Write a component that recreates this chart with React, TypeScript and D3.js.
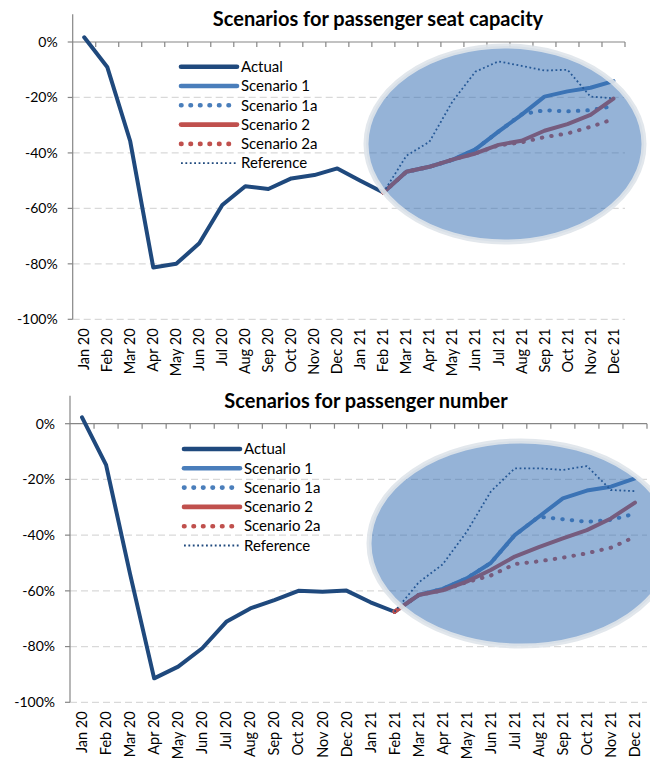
import React from 'react'
import * as d3 from 'd3'

const months = ['Jan 20', 'Feb 20', 'Mar 20', 'Apr 20', 'May 20', 'Jun 20', 'Jul 20', 'Aug 20', 'Sep 20', 'Oct 20', 'Nov 20', 'Dec 20',
    'Jan 21', 'Feb 21', 'Mar 21', 'Apr 21', 'May 21', 'Jun 21', 'Jul 21', 'Aug 21', 'Sep 21', 'Oct 21', 'Nov 21', 'Dec 21']
const yTicks = [0, -20, -40, -60, -80, -100]
const seriesNames = ['Actual', 'Scenario 1', 'Scenario 1a', 'Scenario 2', 'Scenario 2a', 'Reference']

const _ = null
// seat capacity, % change
const seatActual = [1.7, -9, -35.8, -81.3, -80, -72.6, -58.8, -52, -53, -49.2, -48, -45.6, -50, -54.3, _, _, _, _, _, _, _, _, _, _]
const seatS1 = [_, _, _, _, _, _, _, _, _, _, _, _, _, -54.3, -46.8, -45, -42.5, -38.7, -32.3, -26.3, -19.7, -17.8, -16.5, -14.1]
const seatS1a = [_, _, _, _, _, _, _, _, _, _, _, _, _, -54.3, -46.8, -45, -42.5, -38.7, -32.3, -26.1, -24.6, -25, -24.6, -23.1]
const seatS2 = [_, _, _, _, _, _, _, _, _, _, _, _, _, -54.3, -46.8, -45, -42.4, -40.2, -37.1, -35.6, -32, -29.6, -26.3, -20.4]
const seatS2a = [_, _, _, _, _, _, _, _, _, _, _, _, _, -54.3, -46.8, -45, -42.4, -40.2, -37.3, -36.2, -34.3, -33, -30.6, -27.8]
const seatRef = [_, _, _, _, _, _, _, _, _, _, _, _, _, -54.3, -41, -36, -21.5, -10.7, -7, -8.6, -10.3, -10, -19.7, -20.3]

// passenger number, % change
const paxActual = [2.3, -14.8, -54, -91.4, -87.2, -80.6, -71.1, -66.3, -63.3, -60, -60.3, -59.9, -64.1, -67.5, _, _, _, _, _, _, _, _, _, _]
const paxS1 = [_, _, _, _, _, _, _, _, _, _, _, _, _, -67.5, -61.5, -59.3, -55.5, -50, -40, -33.4, -26.8, -24, -22.6, -19.6]
const paxS1a = [_, _, _, _, _, _, _, _, _, _, _, _, _, -67.5, -61.5, -59.3, -55.5, -50, -40, -33.4, -34.3, -35.2, -34.5, -32.3]
const paxS2 = [_, _, _, _, _, _, _, _, _, _, _, _, _, -67.5, -61.5, -59.8, -56.7, -52.5, -47.7, -44.3, -41.2, -38.2, -34, -28.3]
const paxS2a = [_, _, _, _, _, _, _, _, _, _, _, _, _, -67.5, -61.5, -59.8, -56.9, -54.5, -50.4, -49.4, -48.1, -46.5, -44.5, -40.6]
const paxRef = [_, _, _, _, _, _, _, _, _, _, _, _, _, -67.5, -57, -50.5, -38.8, -24.4, -16, -16, -16.6, -15.2, -23.8, -24.2]

const styles = [
    { color: '#1f497d', width: 4, dash: null, cap: 'round' },
    { color: '#4a7ebb', width: 4, dash: null, cap: 'round' },
    { color: '#4a7ebb', width: 4, dash: '0.5 9', cap: 'round' },
    { color: '#c0504d', width: 4, dash: null, cap: 'round' },
    { color: '#c0504d', width: 4, dash: '0.5 9', cap: 'round' },
    { color: '#1f497d', width: 1.8, dash: '1.8 2.6', cap: 'butt' },
]

const font = 'Lato, "Open Sans", sans-serif'

function Chart({ title, data, box, legend, ell }) {
    const x = d3.scaleBand().domain(months).range([box.left, box.right])
    const y = d3.scaleLinear().domain([-100, 10]).range([box.bottom, box.bottom - (box.bottom - box.zero) * 1.1])
    const line = d3.line()
        .defined(d => d != null)
        .x((d, i) => x(months[i]) + x.bandwidth() / 2)
        .y(d => y(d))

    return (
        <g fontFamily={font}>
            <text x={title.x} y={title.y} textAnchor='middle' fontWeight='bold' fontSize={20} fill='#000'>{title.text}</text>
            {yTicks.filter(t => t !== 0).map(t => (
                <line key={t} x1={box.left} x2={box.right} y1={y(t)} y2={y(t)} stroke='#d9d9d9' strokeWidth={1.2} strokeDasharray='7 4' />
            ))}
            <line x1={box.left} x2={box.left} y1={y(10)} y2={y(-100)} stroke='#868686' strokeWidth={1.2} />
            <line x1={box.left} x2={box.right} y1={y(0)} y2={y(0)} stroke='#868686' strokeWidth={1.2} />
            {yTicks.map(t => (
                <g key={t}>
                    <line x1={box.left - 5} x2={box.left} y1={y(t)} y2={y(t)} stroke='#868686' strokeWidth={1.2} />
                    <text x={box.left - 15} y={y(t)} dy='0.35em' textAnchor='end' fontSize={14} fill='#000'>{t + '%'}</text>
                </g>
            ))}
            {months.map((m, i) => (
                <g key={m}>
                    <line x1={x(m) + x.bandwidth()} x2={x(m) + x.bandwidth()} y1={y(0)} y2={y(0) + 5} stroke='#868686' strokeWidth={1.2} />
                    <text transform={'translate(' + (x(m) + x.bandwidth() / 2) + ',' + (y(-100) + 9) + ') rotate(-90)'}
                        dy='0.35em' textAnchor='end' fontSize={14.5} fill='#000'>{m}</text>
                </g>
            ))}
            {data.map((vals, k) => (
                <path key={k} d={line(vals)} fill='none' stroke={styles[k].color} strokeWidth={styles[k].width}
                    strokeDasharray={styles[k].dash} strokeLinecap={styles[k].cap} strokeLinejoin='round' />
            ))}
            <ellipse cx={ell.cx} cy={ell.cy} rx={ell.rx} ry={ell.ry} fill='#2b67af' fillOpacity={0.5}
                stroke='#dfe4ea' strokeOpacity={0.9} strokeWidth={5} />
            {seriesNames.map((n, k) => {
                const ly = legend.y + k * legend.step
                return (
                    <g key={n}>
                        <line x1={legend.x} x2={legend.x + 56} y1={ly} y2={ly} stroke={styles[k].color}
                            strokeWidth={k === 5 ? styles[k].width : 4.6}
                            strokeDasharray={styles[k].dash} strokeLinecap={styles[k].cap} />
                        <text x={legend.x + 60} y={ly} dy='0.35em' fontSize={15} fill='#000'>{n}</text>
                    </g>
                )
            })}
        </g>
    )
}

export default function App() {
    return (
        <svg width={650} height={762} style={{ position: 'absolute', left: 0, top: 0, background: '#fff' }}>
            <Chart
                title={{ text: 'Scenarios for passenger seat capacity', x: 378, y: 26 }}
                data={[seatActual, seatS1, seatS1a, seatS2, seatS2a, seatRef]}
                box={{ left: 72.7, right: 625, zero: 42, bottom: 319.3 }}
                legend={{ x: 181, y: 66.7, step: 19.3 }}
                ell={{ cx: 505, cy: 144, rx: 139, ry: 98 }}
            />
            <Chart
                title={{ text: 'Scenarios for passenger number', x: 366, y: 407.5 }}
                data={[paxActual, paxS1, paxS1a, paxS2, paxS2a, paxRef]}
                box={{ left: 70, right: 647, zero: 423.7, bottom: 702.3 }}
                legend={{ x: 184, y: 449, step: 19.3 }}
                ell={{ cx: 521, cy: 543.5, rx: 152, ry: 102.5 }}
            />
        </svg>
    )
}
